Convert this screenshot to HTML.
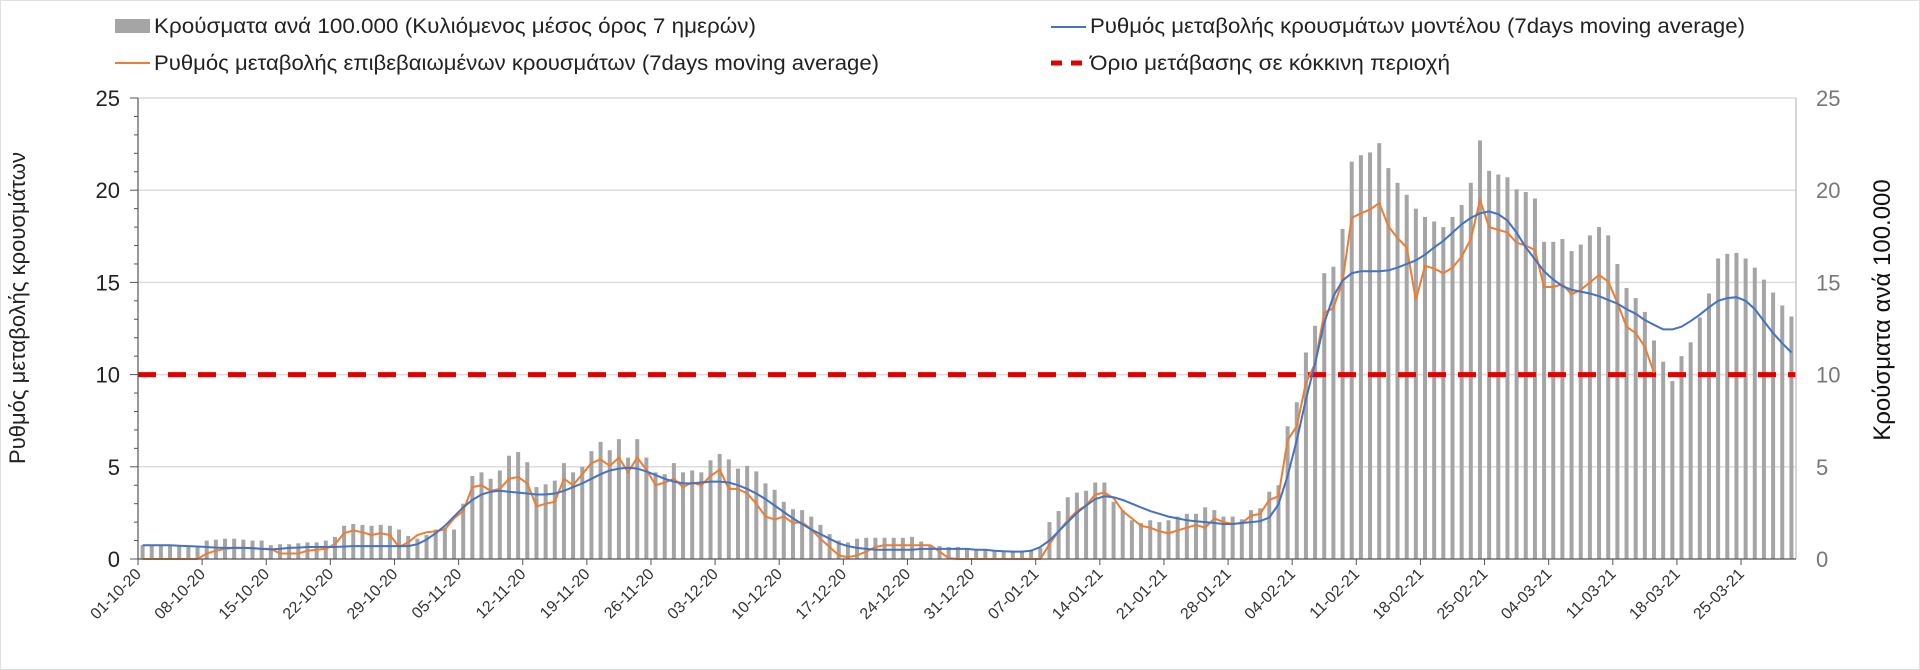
<!DOCTYPE html>
<html><head><meta charset="utf-8"><style>
html,body{margin:0;padding:0;background:#fff;}
svg{display:block;font-family:"Liberation Sans","DejaVu Sans",sans-serif;}
</style></head><body>
<svg id="chart" width="1920" height="670" viewBox="0 0 1920 670" xmlns="http://www.w3.org/2000/svg">
<rect x="0.5" y="0.5" width="1919" height="669" fill="#fff" stroke="#e0e0e0"/>
<g id="grid"></g>
<g id="bars"></g>
<line x1="138" y1="375" x2="1796" y2="375" stroke="#e00000" stroke-width="5" stroke-dasharray="18 12" id="redline"/>
<polyline id="orange" fill="none" stroke="#ed7d31" stroke-width="2"/>
<polyline id="blue" fill="none" stroke="#4472c4" stroke-width="2"/>
<g id="axes"></g>
<g id="xlabels"></g>
<g font-size="21" fill="#222">
 <g>
  <rect x="115" y="19" width="35" height="14" fill="#a5a5a5"/>
  <text x="154" y="33" textLength="602" lengthAdjust="spacingAndGlyphs">Κρούσματα ανά 100.000 (Κυλιόμενος μέσος όρος 7 ημερών)</text>
 </g>
 <g>
  <line x1="115" y1="63" x2="150" y2="63" stroke="#ed7d31" stroke-width="2"/>
  <text x="154" y="70" textLength="725" lengthAdjust="spacingAndGlyphs">Ρυθμός μεταβολής επιβεβαιωμένων κρουσμάτων (7days moving average)</text>
 </g>
 <g>
  <line x1="1051" y1="27" x2="1086" y2="27" stroke="#4472c4" stroke-width="2"/>
  <text x="1090" y="33" textLength="655" lengthAdjust="spacingAndGlyphs">Ρυθμός μεταβολής κρουσμάτων μοντέλου (7days moving average)</text>
 </g>
 <g>
  <line x1="1051" y1="63" x2="1088" y2="63" stroke="#e00000" stroke-width="5" stroke-dasharray="11 9"/>
  <text x="1090" y="70" textLength="360" lengthAdjust="spacingAndGlyphs">Όριο μετάβασης σε κόκκινη περιοχή</text>
 </g>
</g>
<text transform="translate(25,308) rotate(-90)" text-anchor="middle" font-size="22" fill="#222">Ρυθμός μεταβολής κρουσμάτων</text>
<text transform="translate(1890,310) rotate(-90)" text-anchor="middle" font-size="24" fill="#111">Κρούσματα ανά 100.000</text>
</svg>
<script>
const startDate = [2020, 9, 1];
const barValues = [
.75,.75,.75,.75,.75,.7,.7,
1.0,1.05,1.1,1.1,1.05,1.0,1.0,
.75,.8,.8,.85,.9,.9,1.0,
1.2,1.8,1.9,1.85,1.8,1.85,1.8,
1.6,1.25,1.1,1.3,1.6,1.7,1.6,
3.0,4.5,4.7,4.35,4.8,5.6,5.8,
5.25,3.9,4.05,4.25,5.2,4.7,5.0,
5.85,6.35,5.9,6.5,5.5,6.5,5.5,
4.7,4.6,5.2,4.7,4.8,4.7,5.35,
5.7,5.4,4.9,5.05,4.75,4.1,3.75,
3.1,2.7,2.65,2.3,1.85,1.35,1.0,
.9,1.1,1.15,1.15,1.15,1.15,1.15,
1.2,.95,.75,.7,.65,.65,.6,
.55,.5,.45,.45,.45,.45,.5,
.6,2.0,2.6,3.35,3.6,3.7,4.15,
4.15,3.1,2.65,2.1,1.95,2.1,2.0,
2.1,2.3,2.45,2.45,2.8,2.65,2.3,
2.3,2.15,2.65,2.75,3.65,4.0,
7.2,8.5,11.2,12.65,15.5,15.85,17.9,21.55,21.9,22.05,22.55,21.2,20.4,19.75,19.0,18.55,18.3,18.0,18.55,19.2,20.4,22.7,21.05,20.85,20.7,20.05,19.9,19.55,17.2,17.2,17.35,16.7,17.05,17.55,18.0,17.55,16.0,14.7,14.15,13.4,11.85,10.7,9.65,11.0,11.75,13.1,14.4,16.3,16.55,16.6,16.3,15.8,15.15,14.45,13.75,13.15];
const orangeValues = [
0,0,0,0,0,0,0,
0.3,0.45,0.55,0.6,0.6,0.6,0.55,
0.55,0.3,0.3,0.3,0.45,0.5,0.55,
0.8,1.4,1.55,1.45,1.3,1.4,1.3,
0.65,0.9,1.3,1.45,1.5,1.6,2.2,
2.6,3.9,4.0,3.7,3.8,4.35,4.45,
4.1,2.85,3.0,3.1,4.35,4.0,4.6,
5.2,5.4,5.05,5.5,4.7,5.5,4.85,
4.0,4.15,4.35,3.9,4.15,4.0,4.5,
4.85,3.8,3.8,3.55,3.0,2.3,2.15,
2.3,1.95,2.0,1.6,1.1,0.65,0.2,
0.1,0.2,0.4,0.65,0.75,0.75,0.75,
0.75,0.75,0.75,0.4,0.05,0,0,
0,0,0,0,0,0,0,
0,0.8,1.5,2.1,2.6,2.9,3.5,
3.6,3.3,2.6,2.2,1.8,1.7,1.5,
1.4,1.55,1.7,1.85,1.7,2.2,2.0,
1.9,1.95,2.35,2.45,3.2,3.4,
6.45,7.2,9.55,10.6,13.35,13.6,15.1,18.5,18.75,18.95,19.3,18.05,17.4,16.9,14.05,15.9,15.75,15.5,15.8,16.4,17.35,19.45,18.0,17.85,17.7,17.15,17.0,16.75,14.75,14.75,14.9,14.35,14.6,15.0,15.4,15.05,13.9,12.6,12.25,11.5,10.1];
const blueValues = [
.75,.75,.75,.75,.72,.7,.68,
.65,.62,.6,.6,.6,.58,.55,
.52,.55,.6,.62,.65,.65,.65,
.65,.68,.7,.7,.7,.7,.7,
.7,.7,.8,1.05,1.4,1.8,2.3,
2.8,3.2,3.5,3.65,3.7,3.65,3.6,
3.55,3.5,3.5,3.55,3.7,3.9,4.1,
4.35,4.6,4.8,4.9,4.95,4.9,4.75,
4.55,4.35,4.2,4.1,4.1,4.15,4.2,
4.2,4.15,4.0,3.8,3.55,3.25,2.9,
2.55,2.2,1.9,1.6,1.35,1.1,.85,
.7,.6,.55,.5,.5,.5,.5,
.5,.55,.55,.55,.55,.55,.55,
.5,.5,.45,.42,.4,.4,.45,
.65,1.0,1.5,2.0,2.5,2.9,3.25,
3.4,3.35,3.2,3.0,2.8,2.6,2.45,
2.3,2.2,2.1,2.05,2.0,1.95,1.9,
1.9,1.95,2.0,2.05,2.25,2.95,
4.5,6.45,8.65,10.6,12.8,14.25,15.1,15.5,15.6,15.6,15.6,15.65,15.8,16.0,16.2,16.5,16.9,17.25,17.7,18.15,18.5,18.75,18.85,18.7,18.35,17.7,16.9,16.25,15.6,15.15,14.8,14.6,14.5,14.4,14.25,14.05,13.85,13.55,13.3,12.95,12.7,12.45,12.45,12.6,12.9,13.25,13.65,14.0,14.15,14.2,14.0,13.55,12.9,12.25,11.7,11.2];
const yTicks = [0,5,10,15,20,25];
const threshold = [10];

const NS = "http://www.w3.org/2000/svg";
const X0 = 138, X1 = 1796, Y0 = 559, YTOP = 98, VMAX = 25;
const N = barValues.length;
const step = (X1 - X0) / N;
function xCat(i){ return X0 + (i + 0.5) * step; }
function xTick(i){ return X0 + i * step; }
function yVal(v){ return Y0 - v / VMAX * (Y0 - YTOP); }
function mk(tag, attrs, parent){ const e = document.createElementNS(NS, tag); for (const k in attrs) e.setAttribute(k, attrs[k]); parent.appendChild(e); return e; }

const grid = document.getElementById('grid');
yTicks.forEach(v => {
  if (v === 0) return;
  const l = mk('line', {x1:X0, x2:X1, y1:yVal(v), y2:yVal(v), stroke:'#dcdcdc', 'stroke-width':1.5}, grid);
  
  
});
document.getElementById('redline').setAttribute('y1', yVal(threshold[0]));
document.getElementById('redline').setAttribute('y2', yVal(threshold[0]));

const bars = document.getElementById('bars');
barValues.forEach((v, i) => {
  const r = mk('rect', {x: xCat(i) - 2, y: yVal(v), width: 4, height: Y0 - yVal(v), fill: '#a5a5a5'}, bars);
  
  
});
document.getElementById('orange').setAttribute('points', orangeValues.map((v,i)=>xCat(i).toFixed(1)+','+yVal(v).toFixed(1)).join(' '));
document.getElementById('blue').setAttribute('points', blueValues.map((v,i)=>xCat(i).toFixed(1)+','+yVal(v).toFixed(1)).join(' '));

const axes = document.getElementById('axes');
mk('line', {x1:X0, x2:X0, y1:YTOP, y2:Y0, stroke:'#555', 'stroke-width':1.2}, axes);
mk('line', {x1:X1, x2:X1, y1:YTOP, y2:Y0, stroke:'#c8c8c8', 'stroke-width':1.5}, axes);
mk('line', {x1:X0, x2:X1, y1:Y0, y2:Y0, stroke:'#555', 'stroke-width':1.2}, axes);
for (let v = 0; v <= VMAX; v++) {
  const len = v % 5 === 0 ? 8 : 4;
  mk('line', {x1:X0-len, x2:X0, y1:yVal(v), y2:yVal(v), stroke:'#555', 'stroke-width':1}, axes);
}
yTicks.forEach(v => {
  const t = mk('text', {x:X0-18, y:yVal(v)+8, 'text-anchor':'end', 'font-size':22, fill:'#222'}, axes);
  t.textContent = v;
  
  
  const t2 = mk('text', {x:X1+20, y:yVal(v)+8, 'text-anchor':'start', 'font-size':22, fill:'#777'}, axes);
  t2.textContent = v;
  
  
});
const xl = document.getElementById('xlabels');
const d0 = new Date(startDate[0], startDate[1], startDate[2]);
for (let i = 0; i < N; i += 7) {
  const x = xTick(i);
  mk('line', {x1:x, x2:x, y1:Y0, y2:Y0+6, stroke:'#555', 'stroke-width':1}, axes);
  const d = new Date(d0.getTime() + i * 86400000);
  const s = String(d.getDate()).padStart(2,'0') + '-' + String(d.getMonth()+1).padStart(2,'0') + '-' + String(d.getFullYear()).slice(2);
  const t = mk('text', {x:x+4, y:Y0+16, 'text-anchor':'end', 'font-size':16, fill:'#333', transform:`rotate(-45 ${x+4} ${Y0+16})`}, xl);
  t.textContent = s;
  
  
}
</script>
</body></html>
